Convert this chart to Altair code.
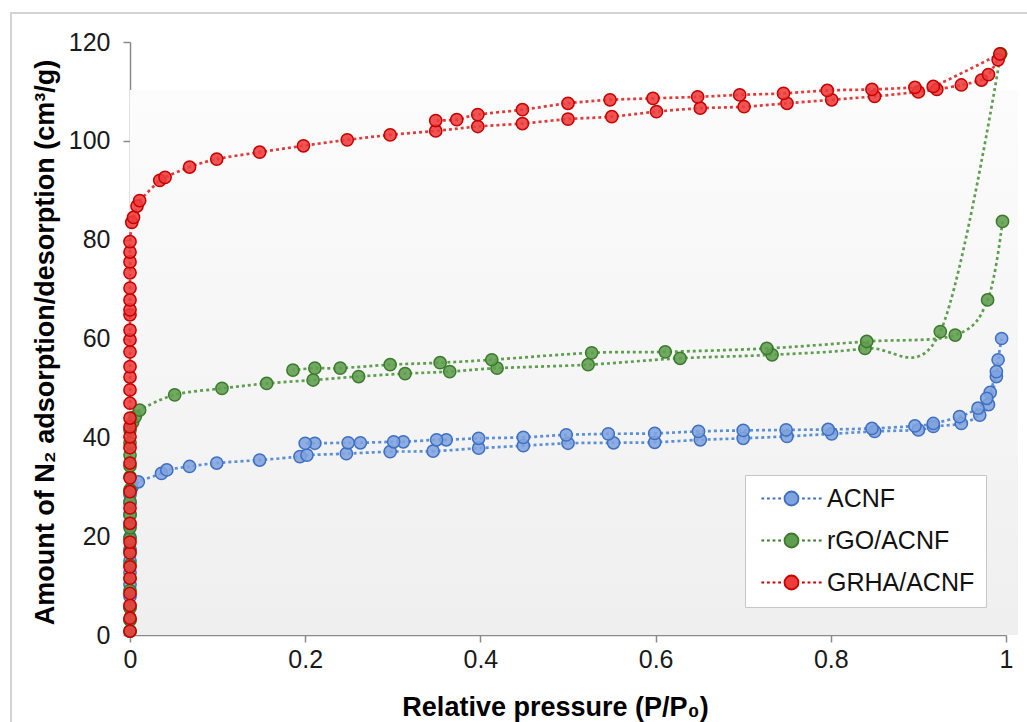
import altair as alt
import pandas as pd

series_names = ["ACNF", "rGO/ACNF", "GRHA/ACNF"]

# ---------------- ACNF ----------------
acnf_ads_x = [0] * 13 + [0.002, 0.0095, 0.036, 0.042, 0.068, 0.099, 0.148, 0.194, 0.202, 0.247,
                         0.297, 0.346, 0.398, 0.449, 0.5, 0.552, 0.599, 0.651, 0.7, 0.75,
                         0.801, 0.85, 0.9, 0.917, 0.949, 0.97, 0.98, 0.989, 0.991, 0.995]
acnf_ads_y = [0.8, 3.2, 5.6, 7.8, 10.2, 12.6, 15.0, 17.4, 19.8, 22.2, 24.4, 26.6, 28.4,
              29.8, 31.0, 32.7, 33.4, 34.1, 34.8, 35.4, 36.1, 36.4, 36.7,
              37.1, 37.2, 37.8, 38.3, 38.8, 38.9, 39.0, 39.5, 39.8, 40.2,
              40.7, 41.2, 41.5, 42.2, 42.8, 44.5, 46.6, 52.3, 55.7, 60.0]
acnf_des_x = [0.989, 0.982, 0.978, 0.968, 0.947, 0.917, 0.896, 0.847, 0.797, 0.749, 0.7, 0.649,
              0.599, 0.546, 0.498, 0.449, 0.398, 0.361, 0.35, 0.312, 0.301, 0.263, 0.249, 0.211, 0.2]
acnf_des_y = [53.3, 49.1, 47.9, 45.9, 44.2, 42.8, 42.3, 41.8, 41.6, 41.5, 41.4, 41.2,
              40.8, 40.7, 40.5, 40.0, 39.8, 39.5, 39.5, 39.1, 39.1, 38.9, 38.9, 38.8, 38.8]

# ---------------- rGO/ACNF ----------------
rgo_ads_x = [0] * 17 + [0.003, 0.006, 0.011, 0.051, 0.105, 0.156, 0.209, 0.261, 0.314, 0.365,
                        0.419, 0.523, 0.628, 0.733, 0.839, 0.925, 0.994]
rgo_ads_y = [0.8, 3.0, 5.5, 9.0, 11.5, 14.2, 17.0, 19.5, 21.7, 24.3, 27.0, 29.4, 32.0, 34.2, 36.4, 38.9, 41.5,
             43.0, 44.2, 45.5, 48.6, 49.9, 50.9, 51.6, 52.3, 52.9, 53.3,
             54.0, 54.7, 56.0, 56.7, 58.0, 61.4, 117.6]
rgo_des_x = [0.996, 0.979, 0.942, 0.841, 0.727, 0.611, 0.527, 0.413, 0.354, 0.297, 0.24, 0.211, 0.186]
rgo_des_y = [83.7, 67.8, 60.7, 59.4, 58.0, 57.3, 57.1, 55.7, 55.1, 54.7, 54.0, 54.0, 53.6]

# ---------------- GRHA/ACNF ----------------
grha_ads_x = [0] * 32 + [0.002, 0.004, 0.008, 0.011, 0.034, 0.040, 0.068, 0.099, 0.148, 0.198,
                         0.248, 0.297, 0.349, 0.397, 0.448, 0.5, 0.55, 0.601, 0.651, 0.701,
                         0.75, 0.801, 0.85, 0.9, 0.921, 0.949, 0.972, 0.98, 0.991]
grha_ads_y = [0.8, 3.4, 6.0, 8.4, 11.5, 13.8, 16.6, 18.8, 22.6, 25.7, 29.0, 31.8, 34.8, 37.9, 40.1, 42.1,
              43.9, 46.9, 49.6, 52.2, 54.3, 57.3, 59.7, 61.7, 64.8, 65.8, 67.8, 70.2, 73.3, 75.5, 77.5, 79.6,
              83.5, 84.5, 86.8, 87.9, 92.0, 92.6, 94.7, 96.3, 97.7, 99.0,
              100.2, 101.2, 102.0, 102.9, 103.5, 104.4, 104.9, 105.9, 106.6, 106.9,
              107.6, 108.3, 109.0, 109.9, 110.4, 111.3, 112.3, 113.4, 116.4]
grha_des_x = [0.993, 0.917, 0.896, 0.847, 0.796, 0.746, 0.696, 0.648, 0.597, 0.548, 0.5, 0.448,
              0.397, 0.373, 0.349]
grha_des_y = [117.6, 111.0, 110.8, 110.4, 110.2, 109.6, 109.3, 108.9, 108.6, 108.3, 107.6, 106.3,
              105.3, 104.3, 104.1]

x_ticks = [0, 0.2, 0.4, 0.6, 0.8, 1]
y_ticks = [0, 20, 40, 60, 80, 100, 120]

fill_colors = ["#7fa3de", "#5f9e4e", "#ee3b3b"]
stroke_colors = ["#3f6fc2", "#3b7a2b", "#c40000"]
line_colors = ["#5b8fd8", "#5f9e50", "#e03b3b"]

branches = [
    ("ACNF", "ads", acnf_ads_x, acnf_ads_y),
    ("ACNF", "des", acnf_des_x, acnf_des_y),
    ("rGO/ACNF", "ads", rgo_ads_x, rgo_ads_y),
    ("rGO/ACNF", "des", rgo_des_x, rgo_des_y),
    ("GRHA/ACNF", "ads", grha_ads_x, grha_ads_y),
    ("GRHA/ACNF", "des", grha_des_x, grha_des_y),
]
rows = []
for s, b, xs, ys in branches:
    for i, (xv, yv) in enumerate(zip(xs, ys)):
        rows.append({"x": xv, "y": yv, "series": s, "branch": b, "key": s + "-" + b, "idx": i})
df = pd.DataFrame(rows)

W, H = 876, 593
FONT = "Liberation Sans"

# legend symbol: dotted line with a circle in the middle (unit coords, scaled by r=7)
seg = ""
for a in [-4.3, -3.5, -2.7, -1.9]:
    seg += f"M{a},0H{a + 0.4:.1f}"
for a in [1.5, 2.3, 3.1, 3.9]:
    seg += f"M{a},0H{a + 0.4:.1f}"
circle = "M1,0A1,1,0,1,1,-1,0A1,1,0,1,1,1,0Z"
symbol_path = circle + seg

legend = alt.Legend(
    title=None, orient="none", legendX=615, legendY=433,
    symbolType=symbol_path, symbolSize=196, symbolStrokeWidth=1.8, symbolOffset=23,
    symbolOpacity=1, labelOffset=23, labelFontSize=25, labelFont=FONT, labelColor="#111",
    rowPadding=16, padding=11, strokeColor="#c6c6c6", fillColor="white",
)

xscale = alt.Scale(domain=[0, 1], nice=False, zero=False)
yscale = alt.Scale(domain=[0, 120], nice=False)

xax = alt.Axis(values=x_ticks, format="~g", title="Relative pressure (P/P₀)",
               titleX=425, titleY=80, titleBaseline="alphabetic", titleAnchor="middle",
               labelPadding=5, labelFlush=False)
yax = alt.Axis(values=y_ticks, title="Amount of N₂ adsorption/desorption (cm³/g)",
               titleX=-85, titleY=300, titleBaseline="middle", labelPadding=13, labelFlush=False)

bg = alt.Chart(pd.DataFrame({"a": [0]})).mark_rect(
    color=alt.LinearGradient(gradient="linear",
                             stops=[alt.GradientStop(color="#fcfcfc", offset=0),
                                    alt.GradientStop(color="#efefef", offset=1)],
                             x1=0, x2=0, y1=0, y2=1)
).encode(x=alt.value(0), x2=alt.value(W + 12), y=alt.value(48), y2=alt.value(H))

frame = alt.Chart(pd.DataFrame({"a": [0]})).mark_rect(
    filled=False, stroke="#d4d4d4", strokeWidth=2
).encode(x=alt.value(-119), x2=alt.value(W + 60), y=alt.value(-29), y2=alt.value(H + 120))

line_layers = []
for s, lc in zip(series_names, line_colors):
    line_layers.append(
        alt.Chart(df).transform_filter(alt.datum.series == s).mark_line(
            interpolate="cardinal", strokeDash=[3, 3], strokeWidth=2.7, color=lc
        ).encode(
            x=alt.X("x:Q", scale=xscale, axis=xax),
            y=alt.Y("y:Q", scale=yscale, axis=yax),
            detail="key:N",
            order="idx:Q",
        )
    )

points = alt.Chart(df).mark_circle(size=150, strokeWidth=1.5, opacity=1, fillOpacity=0.88).encode(
    x=alt.X("x:Q", scale=xscale, axis=xax),
    y=alt.Y("y:Q", scale=yscale, axis=yax),
    fill=alt.Fill("series:N", scale=alt.Scale(domain=series_names, range=fill_colors), legend=legend),
    stroke=alt.Stroke("series:N", scale=alt.Scale(domain=series_names, range=stroke_colors), legend=legend),
)

chart = alt.layer(bg, frame, *line_layers, points).properties(
    width=W, height=H,
    padding={"left": 130, "top": 42, "right": 21, "bottom": 87},
    autosize=alt.AutoSizeParams(type="none"),
    background="white",
).configure_view(stroke=None).configure_axis(
    grid=False, domainColor="#8a8a8a", domainWidth=1.5, tickColor="#8a8a8a", tickWidth=1.5,
    tickSize=7, labelFont=FONT, labelFontSize=25, labelColor="#1a1a1a",
    titleFont=FONT, titleFontSize=27, titleFontWeight="bold", titleColor="#000",
)

chart.save("out.html", embed_options={"renderer": "svg", "actions": False})
